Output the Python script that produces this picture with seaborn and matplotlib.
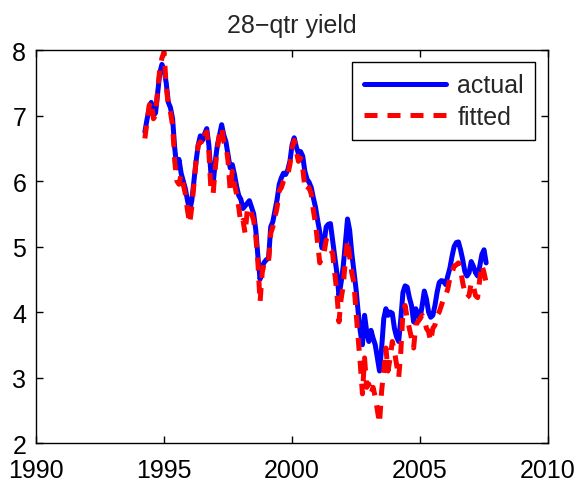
import numpy as np
import pandas as pd
import matplotlib
matplotlib.use("Agg")
import matplotlib.pyplot as plt
import seaborn as sns

# monthly observations starting April 1994
start_year = 1994.25

actual = [
    6.75, 6.94, 7.10, 7.20, 7.00, 7.04, 7.35, 7.65, 7.78, 7.70,
    7.50, 7.20, 7.12, 6.95, 6.50, 6.20, 6.33, 6.12, 6.00, 5.88,
    5.70, 5.55, 5.70, 6.00, 6.30, 6.55, 6.69, 6.62, 6.72, 6.80,
    6.55, 6.10, 5.95, 6.30, 6.55, 6.70, 6.86, 6.70, 6.60, 6.40,
    6.20, 6.25, 6.10, 5.92, 5.78, 5.72, 5.58, 5.62, 5.66, 5.70,
    5.60, 5.50, 5.25, 4.85, 4.50, 4.70, 4.76, 4.80, 4.82, 5.30,
    5.38, 5.55, 5.72, 5.95, 6.05, 6.12, 6.10, 6.17, 6.30, 6.55,
    6.66, 6.52, 6.42, 6.45, 6.38, 6.15, 6.03, 5.98, 5.90, 5.74,
    5.60, 5.40, 5.22, 4.98, 5.05, 5.30, 5.34, 5.35, 5.10, 4.85,
    4.60, 4.25, 4.45, 4.70, 5.05, 5.42, 5.25, 4.90, 4.62, 4.35,
    4.00, 3.70, 3.50, 3.95, 3.70, 3.55, 3.72, 3.60, 3.50, 3.30,
    3.10, 3.45, 3.90, 4.05, 3.95, 4.00, 3.98, 3.75, 3.62, 3.55,
    3.90, 4.30, 4.40, 4.38, 4.22, 4.10, 3.85, 4.05, 3.95, 3.90,
    4.10, 4.32, 4.20, 4.00, 3.92, 3.95, 4.10, 4.30, 4.45, 4.48,
    4.47, 4.42, 4.55, 4.67, 4.85, 5.00, 5.06, 5.07, 4.95, 4.80,
    4.62, 4.55, 4.60, 4.77, 4.70, 4.60, 4.55, 4.70, 4.88, 4.95,
    4.75,
]

fitted = [
    6.65, 6.90, 7.15, 7.22, 6.95, 7.00, 7.40, 7.70, 7.88, 7.97,
    7.45, 7.15, 7.05, 6.85, 6.30, 6.00, 5.95, 6.10, 5.95, 5.80,
    5.55, 5.35, 5.60, 5.95, 6.30, 6.55, 6.60, 6.55, 6.70, 6.75,
    6.45, 5.85, 5.80, 6.20, 6.50, 6.72, 6.82, 6.60, 6.55, 6.30,
    5.85, 6.15, 5.95, 5.80, 5.60, 5.35, 5.40, 5.20, 5.55, 5.60,
    5.50, 5.40, 5.15, 4.75, 4.15, 4.60, 4.75, 4.72, 4.78, 5.20,
    5.30, 5.45, 5.60, 5.85, 5.90, 6.00, 6.05, 6.10, 6.25, 6.50,
    6.62, 6.45, 6.30, 6.35, 6.20, 5.90, 5.85, 5.90, 5.80, 5.55,
    5.35, 5.05, 4.75, 4.85, 4.90, 5.10, 5.05, 4.95, 4.90, 4.60,
    4.30, 3.85, 4.20, 4.40, 4.80, 5.10, 4.85, 4.60, 4.45, 4.00,
    3.60, 3.20, 2.75, 3.30, 2.85, 2.90, 2.75, 2.85, 2.70, 2.50,
    2.30, 2.80, 3.10, 3.45, 3.10, 3.30, 3.55, 3.40, 3.20, 3.00,
    3.40, 4.00, 4.10, 3.90, 3.75, 3.60, 3.45, 3.80, 3.85, 3.90,
    3.95, 3.90, 3.75, 3.70, 3.55, 3.75, 3.80, 3.95, 4.00, 4.10,
    4.20, 4.25, 4.35, 4.52, 4.60, 4.70, 4.72, 4.75, 4.65, 4.45,
    4.30, 4.22, 4.25, 4.45, 4.40, 4.25, 4.22, 4.50, 4.72, 4.60,
    4.45,
]

series_names = ["actual", "fitted"]
x_ticks = [1990, 1995, 2000, 2005, 2010]
y_ticks = [2, 3, 4, 5, 6, 7, 8]
title = "28\u2212qtr yield"

n = len(actual)
years = start_year + np.arange(n) / 12.0
df = pd.DataFrame({
    "year": np.concatenate([years, years]),
    "yield": np.array(actual + fitted),
    "series": [series_names[0]] * n + [series_names[1]] * n,
})

sns.set_style("ticks")
plt.rcParams["font.family"] = ["Liberation Sans", "DejaVu Sans"]
plt.rcParams["axes.unicode_minus"] = True

fig = plt.figure(figsize=(5.82, 4.85), dpi=100)
ax = fig.add_axes([0.062, 0.0845, 0.8796, 0.8103])

sns.lineplot(
    data=df, x="year", y="yield", hue="series", style="series",
    palette={"actual": "#0000ff", "fitted": "#ff0000"},
    dashes={"actual": "", "fitted": (2.6, 2.0)},
    linewidth=3.6, ax=ax, sort=False,
)

ax.set_xlim(1990, 2010)
ax.set_ylim(2, 8)
ax.set_xticks(x_ticks)
ax.set_yticks(y_ticks)
ax.set_xlabel("")
ax.set_ylabel("")
ax.set_title(title, fontsize=18, pad=13)
ax.tick_params(direction="in", top=True, right=True, length=5, width=1,
               labelsize=18, colors="black")
ax.tick_params(axis="x", pad=11)
ax.tick_params(axis="y", pad=7)
for s in ax.spines.values():
    s.set_visible(True)
    s.set_linewidth(1.0)
    s.set_color("black")

handles, labels = ax.get_legend_handles_labels()
leg = ax.legend(handles, labels, loc="upper right", fontsize=18,
                frameon=True, fancybox=False, edgecolor="black",
                framealpha=1, handlelength=3.3, borderpad=0.45,
                labelspacing=0.3, handletextpad=0.45, borderaxespad=0,
                bbox_to_anchor=(0.975, 0.969))
leg.get_frame().set_linewidth(1.0)

fig.savefig("out.png", dpi=100)
